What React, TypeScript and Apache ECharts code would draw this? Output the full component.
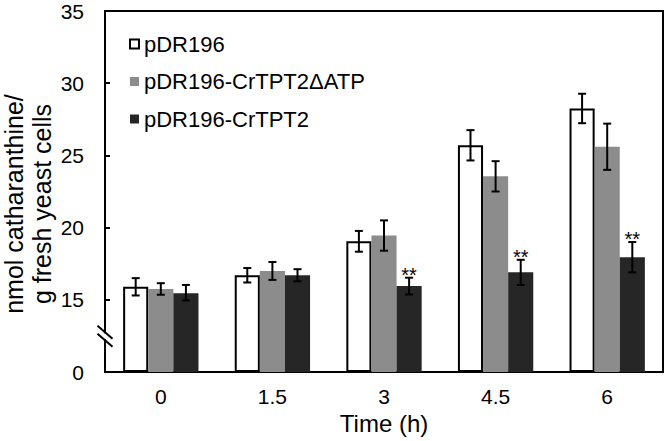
import React, { useEffect, useRef } from 'react';
import * as echarts from 'echarts';

const categories = ['0', '1.5', '3', '4.5', '6'];
const seriesNames = ['pDR196', 'pDR196-CrTPT2\u0394ATP', 'pDR196-CrTPT2'];
const meanEmpty = [15.9, 16.7, 19.05, 25.7, 28.25];
const meanDelta = [15.75, 17.0, 19.45, 23.55, 25.6];
const meanTPT2 = [15.45, 16.7, 15.95, 16.9, 17.95];
const errEmpty = [0.6, 0.5, 0.72, 1.05, 1.02];
const errDelta = [0.4, 0.62, 1.05, 1.05, 1.6];
const errTPT2 = [0.58, 0.42, 0.58, 0.87, 1.05];
const sigEmpty = ['', '', '', '', ''];
const sigDelta = ['', '', '', '', ''];
const sigTPT2 = ['', '', '**', '**', '**'];
const yTickLabels = ['0', '15', '20', '25', '30', '35'];

const FONT = '"Liberation Sans", Arial, sans-serif';
const BAR_FRAC = 0.225;

// broken axis: 0..15 compressed into one tick step, above 15 linear
const toDisplay = (v: number) => (v >= 15 ? v - 10 : v / 3);

export default function App() {
  const ref = useRef<HTMLDivElement>(null);
  useEffect(() => {
    if (!ref.current) return;
    const chart = echarts.init(ref.current, undefined, { renderer: 'svg' });
    const means = [meanEmpty, meanDelta, meanTPT2];
    const errs = [errEmpty, errDelta, errTPT2];
    const sigs = [sigEmpty, sigDelta, sigTPT2];
    const styles = [
      { color: '#ffffff', borderColor: '#000000', borderWidth: 2 },
      { color: '#8c8c8c' },
      { color: '#262626' },
    ];
    const barSeries = seriesNames.map((name, s) => ({
      type: 'bar',
      name,
      barWidth: BAR_FRAC * 100 + '%',
      barGap: '0%',
      itemStyle: styles[s],
      data: means[s].map((m) => toDisplay(m)),
    }));
    const errSeries = seriesNames.map((name, s) => ({
      type: 'custom',
      name: name + '-err',
      z: 5,
      data: means[s].map((m, i) => [i, toDisplay(m + errs[s][i]), toDisplay(m - errs[s][i])]),
      encode: { x: 0, y: [1, 2] },
      renderItem: (params: any, api: any) => {
        const i = api.value(0);
        const band = api.size([1, 0])[0];
        const off = (s - 1) * band * BAR_FRAC;
        const top = api.coord([i, api.value(1)]);
        const bot = api.coord([i, api.value(2)]);
        const x = top[0] + off;
        const st = { stroke: '#000', lineWidth: 2 };
        const children: any[] = [
          { type: 'line', shape: { x1: x, y1: top[1], x2: x, y2: bot[1] }, style: st },
          { type: 'line', shape: { x1: x - 4, y1: top[1], x2: x + 4, y2: top[1] }, style: st },
          { type: 'line', shape: { x1: x - 4, y1: bot[1], x2: x + 4, y2: bot[1] }, style: st },
        ];
        const sig = sigs[s][params.dataIndex];
        if (sig) {
          children.push({
            type: 'text',
            style: {
              text: sig,
              x: x,
              y: top[1] - 3,
              align: 'center',
              verticalAlign: 'middle',
              fontSize: 20,
              fontFamily: FONT,
              fill: '#000',
            },
          });
        }
        return { type: 'group', children };
      },
    }));

    chart.setOption({
      animation: false,
      backgroundColor: '#ffffff',
      grid: {
        left: 105,
        right: 5,
        top: 11,
        bottom: 69,
        show: true,
        borderColor: '#000',
        borderWidth: 2,
        backgroundColor: 'transparent',
      },
      legend: {
        data: seriesNames,
        orient: 'vertical',
        left: 129,
        top: 33,
        padding: 0,
        itemWidth: 9,
        itemHeight: 9,
        itemGap: 15.5,
        icon: 'rect',
        textStyle: { fontSize: 22, fontFamily: FONT, color: '#000', lineHeight: 22 },
      },
      xAxis: {
        type: 'category',
        data: categories,
        name: 'Time (h)',
        nameLocation: 'middle',
        nameGap: 38,
        nameTextStyle: { fontSize: 24, fontFamily: FONT, color: '#000' },
        axisLine: { lineStyle: { color: '#000', width: 2 } },
        axisTick: { show: false },
        axisLabel: { fontSize: 21, fontFamily: FONT, color: '#000', margin: 14 },
      },
      yAxis: {
        type: 'value',
        min: 0,
        max: 25,
        interval: 5,
        splitLine: { show: false },
        axisLine: { show: true, lineStyle: { color: '#000', width: 2 } },
        axisTick: { show: true, inside: true, length: 5, lineStyle: { color: '#000', width: 2 } },
        axisLabel: {
          fontSize: 21,
          fontFamily: FONT,
          color: '#000',
          margin: 21,
          formatter: (_v: number, idx: number) => yTickLabels[idx],
        },
      },
      series: [...barSeries, ...errSeries],
    });

    const p1 = chart.convertToPixel({ yAxisIndex: 0 }, 2.2) as number;
    const p2 = chart.convertToPixel({ yAxisIndex: 0 }, 2.75) as number;
    const axisX = 105;
    const mid = (p1 + p2) / 2;
    chart.setOption({
      graphic: [
        {
          type: 'rect',
          shape: { x: axisX - 3, y: mid - 3, width: 6, height: 6 },
          style: { fill: '#fff' },
          z: 100,
        },
        {
          type: 'line',
          shape: { x1: axisX - 7.5, y1: p2 - 6.5, x2: axisX + 7.5, y2: p2 + 6.5 },
          style: { stroke: '#000', lineWidth: 2 },
          z: 101,
        },
        {
          type: 'line',
          shape: { x1: axisX - 7.5, y1: p1 - 6.5, x2: axisX + 7.5, y2: p1 + 6.5 },
          style: { stroke: '#000', lineWidth: 2 },
          z: 101,
        },
        {
          type: 'text',
          x: 28,
          y: 204,
          rotation: Math.PI / 2,
          style: {
            text: 'nmol catharanthine/\ng fresh yeast cells',
            fontSize: 25,
            lineHeight: 28,
            fontFamily: FONT,
            fill: '#000',
            align: 'center',
            verticalAlign: 'middle',
          },
        },
      ],
    });
    return () => chart.dispose();
  }, []);
  return (
    <div
      ref={ref}
      style={{ position: 'fixed', left: 0, top: 0, width: 668, height: 441, background: '#fff' }}
    />
  );
}
